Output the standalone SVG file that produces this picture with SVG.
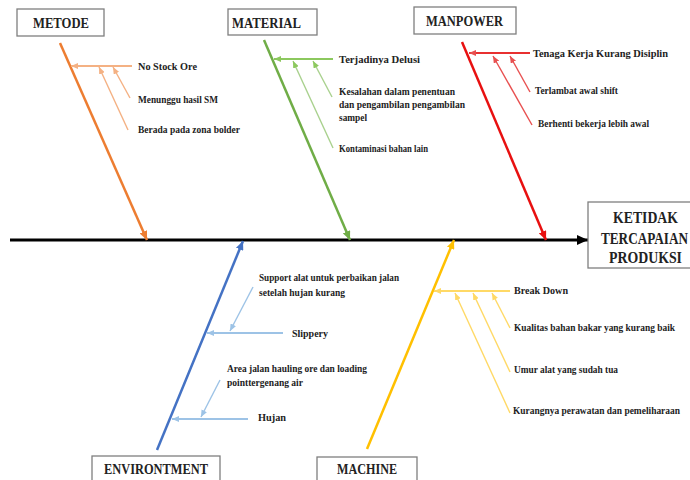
<svg xmlns="http://www.w3.org/2000/svg" width="690" height="480" viewBox="0 0 690 480">
<style>
.box{fill:#fff;stroke:#7f7f7f;stroke-width:1.3}
.cat{font-family:"Liberation Serif","Times New Roman",serif;font-weight:bold;font-size:14.5px;fill:#222;text-anchor:middle}
.eff{font-family:"Liberation Serif","Times New Roman",serif;font-weight:bold;font-size:14px;fill:#222}
.lbl{font-family:"Liberation Serif","Times New Roman",serif;font-weight:bold;font-size:10px;fill:#222}
line{fill:none}
.spine{stroke:#000;stroke-width:3}
.m{stroke-width:2.5}
.b{stroke-width:2}
.s{stroke-width:1.4}
</style>
<defs>
<marker id="aK" markerUnits="userSpaceOnUse" markerWidth="12" markerHeight="10" refX="11" refY="5" orient="auto"><path d="M0,0 L11,5 L0,10 Z" fill="#000"/></marker>
<marker id="aO" markerUnits="userSpaceOnUse" markerWidth="10" markerHeight="8" refX="9" refY="4" orient="auto"><path d="M0,0 L9,4 L0,8 Z" fill="#ED7D31"/></marker>
<marker id="aOl" markerUnits="userSpaceOnUse" markerWidth="8" markerHeight="6" refX="7" refY="3" orient="auto"><path d="M0,0 L7,3 L0,6 Z" fill="#F4B183"/></marker>
<marker id="aG" markerUnits="userSpaceOnUse" markerWidth="10" markerHeight="8" refX="9" refY="4" orient="auto"><path d="M0,0 L9,4 L0,8 Z" fill="#70AD47"/></marker>
<marker id="aGl" markerUnits="userSpaceOnUse" markerWidth="8" markerHeight="6" refX="7" refY="3" orient="auto"><path d="M0,0 L7,3 L0,6 Z" fill="#8CC85E"/></marker>
<marker id="aR" markerUnits="userSpaceOnUse" markerWidth="10" markerHeight="8" refX="9" refY="4" orient="auto"><path d="M0,0 L9,4 L0,8 Z" fill="#E81010"/></marker>
<marker id="aRl" markerUnits="userSpaceOnUse" markerWidth="8" markerHeight="6" refX="7" refY="3" orient="auto"><path d="M0,0 L7,3 L0,6 Z" fill="#E85050"/></marker>
<marker id="aB" markerUnits="userSpaceOnUse" markerWidth="10" markerHeight="8" refX="9" refY="4" orient="auto"><path d="M0,0 L9,4 L0,8 Z" fill="#4472C4"/></marker>
<marker id="aBl" markerUnits="userSpaceOnUse" markerWidth="8" markerHeight="6" refX="7" refY="3" orient="auto"><path d="M0,0 L7,3 L0,6 Z" fill="#9DC3E6"/></marker>
<marker id="aY" markerUnits="userSpaceOnUse" markerWidth="10" markerHeight="8" refX="9" refY="4" orient="auto"><path d="M0,0 L9,4 L0,8 Z" fill="#FFC000"/></marker>
<marker id="aYl" markerUnits="userSpaceOnUse" markerWidth="8" markerHeight="6" refX="7" refY="3" orient="auto"><path d="M0,0 L7,3 L0,6 Z" fill="#FFD966"/></marker>
</defs>
<rect width="690" height="480" fill="#fff"/>

<g id="connectors">
  <line class="spine" x1="10" y1="240" x2="588" y2="240" marker-end="url(#aK)"/>
  <!-- METODE -->
  <line class="m" x1="60" y1="43" x2="147" y2="240" stroke="#ED7D31" marker-end="url(#aO)"/>
  <line class="b" x1="132" y1="66" x2="71" y2="66" stroke="#F4B183" marker-end="url(#aOl)"/>
  <line class="s" x1="130" y1="98" x2="113" y2="67" stroke="#F4B183" marker-end="url(#aOl)"/>
  <line class="s" x1="128" y1="130" x2="99" y2="67" stroke="#F4B183" marker-end="url(#aOl)"/>
  <!-- MATERIAL -->
  <line class="m" x1="264" y1="40" x2="350" y2="240" stroke="#70AD47" marker-end="url(#aG)"/>
  <line class="b" x1="333" y1="59" x2="274" y2="59" stroke="#8CC85E" marker-end="url(#aGl)"/>
  <line class="s" x1="332" y1="97" x2="313" y2="61" stroke="#A9D18E" marker-end="url(#aGl)"/>
  <line class="s" x1="333" y1="148" x2="293" y2="61" stroke="#A9D18E" marker-end="url(#aGl)"/>
  <!-- MANPOWER -->
  <line class="m" x1="462" y1="42" x2="546" y2="240" stroke="#E81010" marker-end="url(#aR)"/>
  <line class="b" x1="530" y1="53" x2="469" y2="53" stroke="#E83030" marker-end="url(#aRl)"/>
  <line class="s" x1="530" y1="92" x2="510" y2="56" stroke="#E85050" marker-end="url(#aRl)"/>
  <line class="s" x1="532" y1="125" x2="493" y2="56" stroke="#E85050" marker-end="url(#aRl)"/>
  <!-- ENVIRONTMENT -->
  <line class="m" x1="157" y1="450" x2="243" y2="241" stroke="#4472C4" marker-end="url(#aB)"/>
  <line class="b" x1="283" y1="333" x2="207" y2="333" stroke="#9DC3E6" marker-end="url(#aBl)"/>
  <line class="s" x1="253" y1="287" x2="230" y2="331" stroke="#9DC3E6" marker-end="url(#aBl)"/>
  <line class="b" x1="248" y1="419" x2="172" y2="419" stroke="#9DC3E6" marker-end="url(#aBl)"/>
  <line class="s" x1="220" y1="380" x2="201" y2="417" stroke="#9DC3E6" marker-end="url(#aBl)"/>
  <!-- MACHINE -->
  <line class="m" x1="367" y1="449" x2="454" y2="240" stroke="#FFC000" marker-end="url(#aY)"/>
  <line class="b" x1="510" y1="291" x2="434" y2="291" stroke="#FFD966" marker-end="url(#aYl)"/>
  <line class="s" x1="510" y1="328" x2="492" y2="293" stroke="#FFD966" marker-end="url(#aYl)"/>
  <line class="s" x1="510" y1="372" x2="473" y2="293" stroke="#FFD966" marker-end="url(#aYl)"/>
  <line class="s" x1="510" y1="413" x2="455" y2="293" stroke="#FFD966" marker-end="url(#aYl)"/>
</g>

<g id="metode">
  <rect class="box" x="17" y="9" width="87" height="27"/>
  <text class="cat" x="61" y="27.5" textLength="56" lengthAdjust="spacingAndGlyphs">METODE</text>
  <text class="lbl" x="138" y="70" textLength="59" lengthAdjust="spacingAndGlyphs">No Stock Ore</text>
  <text class="lbl" x="138" y="103" textLength="80" lengthAdjust="spacingAndGlyphs">Menunggu hasil SM</text>
  <text class="lbl" x="138" y="133" textLength="102" lengthAdjust="spacingAndGlyphs">Berada pada zona bolder</text>
</g>

<g id="material">
  <rect class="box" x="228" y="9" width="89" height="26"/>
  <text class="cat" x="266.5" y="27.5" textLength="69" lengthAdjust="spacingAndGlyphs">MATERIAL</text>
  <text class="lbl" x="339" y="63" textLength="81" lengthAdjust="spacingAndGlyphs">Terjadinya Delusi</text>
  <text class="lbl" x="339" y="95" textLength="116" lengthAdjust="spacingAndGlyphs">Kesalahan dalam penentuan</text>
  <text class="lbl" x="339" y="108" textLength="126" lengthAdjust="spacingAndGlyphs">dan pengambilan pengambilan</text>
  <text class="lbl" x="339" y="121" textLength="28" lengthAdjust="spacingAndGlyphs">sampel</text>
  <text class="lbl" x="339" y="152" textLength="89" lengthAdjust="spacingAndGlyphs">Kontaminasi bahan lain</text>
</g>

<g id="manpower">
  <rect class="box" x="414" y="7" width="102" height="27"/>
  <text class="cat" x="464.5" y="26" textLength="77" lengthAdjust="spacingAndGlyphs">MANPOWER</text>
  <text class="lbl" x="533" y="57" textLength="135" lengthAdjust="spacingAndGlyphs">Tenaga Kerja Kurang Disiplin</text>
  <text class="lbl" x="535" y="94" textLength="83" lengthAdjust="spacingAndGlyphs">Terlambat awal shift</text>
  <text class="lbl" x="538" y="127" textLength="111" lengthAdjust="spacingAndGlyphs">Berhenti bekerja lebih awal</text>
</g>

<g id="effect">
  <rect class="box" x="588" y="202" width="110" height="66"/>
  <text class="eff" transform="translate(613,223) scale(1,1.22)" textLength="65" lengthAdjust="spacingAndGlyphs">KETIDAK</text>
  <text class="eff" transform="translate(601,244) scale(1,1.3)" style="font-size:13px" textLength="87" lengthAdjust="spacingAndGlyphs">TERCAPAIAN</text>
  <text class="eff" transform="translate(609,263) scale(1,1.22)" textLength="73" lengthAdjust="spacingAndGlyphs">PRODUKSI</text>
</g>

<g id="environtment">
  <rect class="box" x="92" y="456" width="128" height="30"/>
  <text class="cat" x="156" y="474" textLength="104" lengthAdjust="spacingAndGlyphs">ENVIRONTMENT</text>
  <text class="lbl" x="259" y="281" textLength="140" lengthAdjust="spacingAndGlyphs">Support alat untuk perbaikan jalan</text>
  <text class="lbl" x="259" y="296" textLength="86" lengthAdjust="spacingAndGlyphs">setelah hujan kurang</text>
  <text class="lbl" x="292" y="337" textLength="36" lengthAdjust="spacingAndGlyphs">Slippery</text>
  <text class="lbl" x="227" y="372" textLength="140" lengthAdjust="spacingAndGlyphs">Area jalan hauling ore dan loading</text>
  <text class="lbl" x="227" y="386" textLength="76" lengthAdjust="spacingAndGlyphs">pointtergenang air</text>
  <text class="lbl" x="258" y="421" textLength="28" lengthAdjust="spacingAndGlyphs">Hujan</text>
</g>

<g id="machine">
  <rect class="box" x="317" y="457" width="100" height="30"/>
  <text class="cat" x="367" y="474" textLength="60" lengthAdjust="spacingAndGlyphs">MACHINE</text>
  <text class="lbl" x="514" y="294" textLength="54" lengthAdjust="spacingAndGlyphs">Break Down</text>
  <text class="lbl" x="514" y="331" textLength="161" lengthAdjust="spacingAndGlyphs">Kualitas bahan bakar yang kurang baik</text>
  <text class="lbl" x="514" y="373" textLength="104" lengthAdjust="spacingAndGlyphs">Umur alat yang sudah tua</text>
  <text class="lbl" x="513" y="414" textLength="167" lengthAdjust="spacingAndGlyphs">Kurangnya perawatan dan pemeliharaan</text>
</g>
</svg>
